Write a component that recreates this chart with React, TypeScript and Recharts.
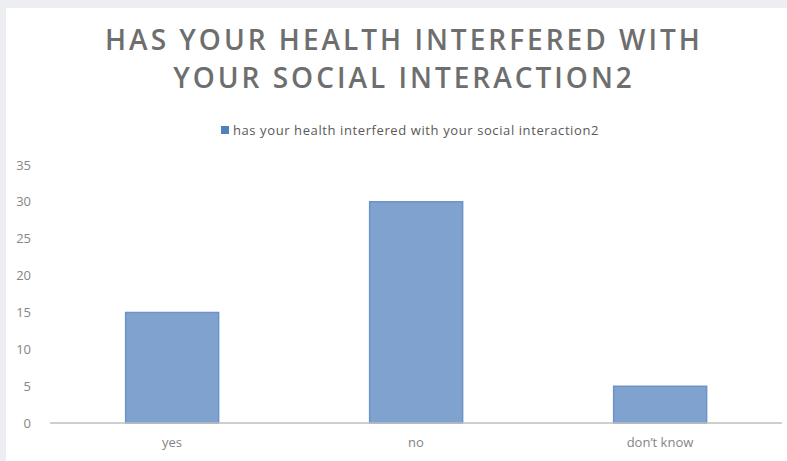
import { Bar, BarChart, Legend, XAxis, YAxis } from "recharts";

const categories = ["yes", "no", "don’t know"];
const counts = [15, 30, 5];
const yTicks = [0, 5, 10, 15, 20, 25, 30, 35];
const seriesName = "has your health interfered with your social interaction2";

const rows = categories.map((name, i) => ({ name, value: counts[i] }));

const FONT = "'Open Sans', 'Noto Sans', sans-serif";

function LegendContent() {
  return (
    <div
      style={{
        textAlign: "center",
        fontFamily: FONT,
        fontSize: 13,
        lineHeight: "16px",
        height: 16,
        letterSpacing: 0.6,
        color: "#595959"
      }}
    >
      <span
        style={{
          display: "inline-block",
          width: 8,
          height: 8,
          background: "#4f81bd",
          marginRight: 4,
          verticalAlign: "middle"
        }}
      />
      <span style={{ verticalAlign: "middle" }}>{seriesName}</span>
    </div>
  );
}

export default function App() {
  return (
    <div
      style={{
        position: "absolute",
        left: 0,
        top: 0,
        width: 787,
        height: 461,
        background: "#eceef1",
        overflow: "hidden"
      }}
    >
      <div
        style={{
          position: "absolute",
          left: 6,
          top: 8,
          width: 781,
          height: 453,
          background: "#ffffff"
        }}
      />
      <div
        style={{
          position: "absolute",
          left: 0,
          top: 20,
          width: 808,
          textAlign: "center",
          fontFamily: FONT,
          fontWeight: 600,
          fontSize: 28,
          lineHeight: "38px",
          letterSpacing: 3,
          color: "#6e6e6e"
        }}
      >
        HAS YOUR HEALTH INTERFERED WITH
        <br />
        YOUR SOCIAL INTERACTION2
      </div>
      <div style={{ position: "absolute", left: 0, top: 0 }}>
        <BarChart
          width={787}
          height={461}
          data={rows}
          margin={{ top: 149, right: 5, bottom: 8, left: 0 }}
          barCategoryGap="31%"
        >
          <Legend
            verticalAlign="top"
            content={<LegendContent />}
            wrapperStyle={{ top: 120, left: 0, width: 820 }}
          />
          <XAxis
            dataKey="name"
            height={30}
            tickLine={false}
            axisLine={{ stroke: "#bfbfbf", strokeWidth: 1.5 }}
            tick={{ fill: "#858585", fontSize: 13, fontFamily: FONT }}
            tickMargin={9}
          />
          <YAxis
            width={50}
            domain={[0, 35]}
            ticks={yTicks}
            interval={0}
            axisLine={false}
            tickLine={false}
            tick={{ fill: "#858585", fontSize: 13, fontFamily: FONT }}
            tickMargin={13}
          />
          <Bar
            dataKey="value"
            name={seriesName}
            fill="#7fa2cf"
            stroke="#6d93c8"
            strokeWidth={1.5}
            isAnimationActive={false}
          />
        </BarChart>
      </div>
    </div>
  );
}
